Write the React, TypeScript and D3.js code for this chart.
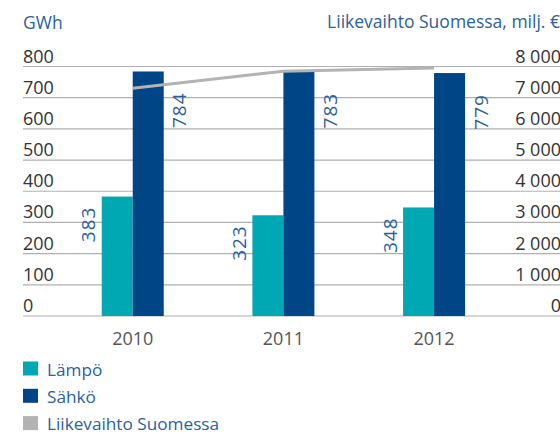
import React from "react";
import * as d3 from "d3";

const years = ["2010", "2011", "2012"];
const lampo = [383, 323, 348];
const sahko = [784, 783, 779];
const liikevaihto = [7300, 7850, 7950];
const leftTicks = [0, 100, 200, 300, 400, 500, 600, 700, 800];
const rightTicks = [0, 1000, 2000, 3000, 4000, 5000, 6000, 7000, 8000];
const legendItems = ["Lämpö", "Sähkö", "Liikevaihto Suomessa"];

const W = 560;
const H = 434;
const TEAL = "#00a8b4";
const NAVY = "#004687";
const GREY = "#b3b3b3";
const BLUE_TEXT = "#2c5f9e";
const FONT = "'Open Sans', sans-serif";

export default function App() {
  const left = 23;
  const right = 560;
  const y = d3.scaleLinear().domain([0, 800]).range([316, 66.5]);
  const y2 = d3.scaleLinear().domain([0, 8000]).range([316, 66.5]);
  const x = d3.scaleBand<string>().domain(years).range([57.4, 509.4]).padding(0);
  const barW = 31;
  const cx = (yr: string) => (x(yr) as number) + x.bandwidth() / 2;
  const fmt = (v: number) => d3.format(",")(v).replace(/,/g, " ");
  const line = d3
    .line<number>()
    .x((_, i) => cx(years[i]))
    .y((d) => y2(d));
  const legendColors = [TEAL, NAVY, GREY];

  return (
    <svg
      width={W}
      height={H}
      style={{ position: "absolute", left: 0, top: 0, background: "#fff" }}
      fontFamily={FONT}
    >
      <text x={left} y={29} fontSize={17.5} fill={BLUE_TEXT}>GWh</text>
      <text x={right} y={28} fontSize={17.5} fill={BLUE_TEXT} textAnchor="end">
        Liikevaihto Suomessa, milj. €
      </text>
      {leftTicks.map((t) => (
        <g key={t}>
          <line x1={left} x2={right} y1={y(t)} y2={y(t)} stroke="#b0b0b0" strokeWidth={1.2} />
          <text x={left} y={y(t) - 4} fontSize={18} fill="#333">{t}</text>
        </g>
      ))}
      {rightTicks.map((t) => (
        <text key={t} x={right + 1} y={y2(t) - 4} fontSize={18} fill="#333" textAnchor="end">
          {fmt(t)}
        </text>
      ))}
      {years.map((yr, i) => (
        <g key={yr}>
          <rect x={cx(yr) - barW} y={y(lampo[i])} width={barW} height={y(0) - y(lampo[i])} fill={TEAL} />
          <rect x={cx(yr)} y={y(sahko[i])} width={barW} height={y(0) - y(sahko[i])} fill={NAVY} />
          <text
            transform={`translate(${cx(yr) - barW - 6.5},${y(lampo[i]) + 10}) rotate(-90)`}
            textAnchor="end"
            fontSize={19}
            letterSpacing={1}
            fill={BLUE_TEXT}
          >
            {lampo[i]}
          </text>
          <text
            transform={`translate(${cx(yr) + barW + 22.5},${y(sahko[i]) + 21}) rotate(-90)`}
            textAnchor="end"
            fontSize={19}
            letterSpacing={1}
            fill={BLUE_TEXT}
          >
            {sahko[i]}
          </text>
          <text x={cx(yr)} y={345} fontSize={18} fill="#555" textAnchor="middle">{yr}</text>
        </g>
      ))}
      <path d={line(liikevaihto) || ""} fill="none" stroke={GREY} strokeWidth={3} />
      {legendItems.map((name, i) => (
        <g key={name} transform={`translate(${left},${361.5 + i * 27.3})`}>
          <rect x={0} y={0} width={15} height={14} fill={legendColors[i]} />
          <text x={24} y={14} fontSize={17.2} fill={BLUE_TEXT}>{name}</text>
        </g>
      ))}
    </svg>
  );
}
